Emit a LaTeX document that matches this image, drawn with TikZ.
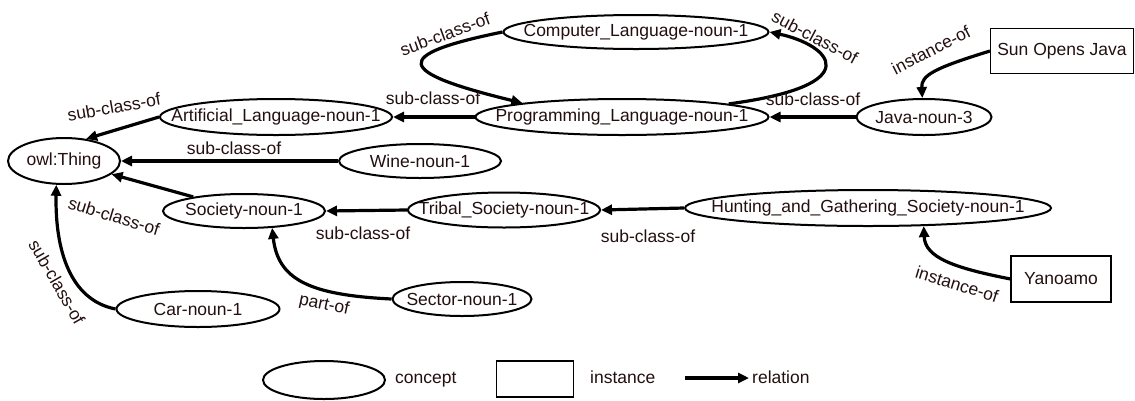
\documentclass[tikz,border=0pt]{standalone}
\usepackage{fontspec}
\setmainfont{Liberation Sans}
\usetikzlibrary{arrows.meta,shapes.geometric}
\definecolor{txt}{RGB}{35,15,15}
\newcommand{\ctext}[1]{\makebox[0pt]{#1}}
\begin{document}
\begin{tikzpicture}[x=1pt,y=-1pt,
  font=\fontsize{17.5}{20}\selectfont,
  concept/.style={ellipse, draw, line width=2pt, inner sep=0pt, text=txt},
  inst/.style={rectangle, draw, line width=1.1pt, inner sep=0pt, text=txt},
  rel/.style={draw, line width=3.2pt, -{Triangle[length=11pt,width=10pt]}},
  lbl/.style={text=txt, inner sep=0pt}]
\useasboundingbox (0,0) rectangle (1135,400);

% concepts
\node[concept, minimum width=112pt, minimum height=46pt] (owl) at (64,161) {\ctext{owl:Thing}};
\node[concept, minimum width=232pt, minimum height=36pt] (art) at (276,117) {\ctext{Artificial\_Language-noun-1}};
\node[concept, minimum width=293pt, minimum height=36pt] (prog) at (622,117) {\ctext{Programming\_Language-noun-1}};
\node[concept, minimum width=265pt, minimum height=34pt] (comp) at (636,32) {\ctext{Computer\_Language-noun-1}};
\node[concept, minimum width=135pt, minimum height=36pt] (java) at (924,117) {\ctext{Java-noun-3}};
\node[concept, minimum width=162pt, minimum height=34pt] (wine) at (420,161) {\ctext{Wine-noun-1}};
\node[concept, minimum width=162pt, minimum height=34pt] (soc) at (244,211) {\ctext{Society-noun-1}};
\node[concept, minimum width=192pt, minimum height=35pt] (trib) at (504,210) {\ctext{Tribal\_Society-noun-1}};
\node[concept, minimum width=366pt, minimum height=36pt] (hunt) at (868,208) {\ctext{Hunting\_and\_Gathering\_Society-noun-1}};
\node[concept, minimum width=139pt, minimum height=34pt] (sec) at (462,299) {\ctext{Sector-noun-1}};
\node[concept, minimum width=163pt, minimum height=36pt] (car) at (198,309) {\ctext{Car-noun-1}};

% instances
\node[inst, minimum width=143pt, minimum height=45pt] (sun) at (1062,51) {Sun Opens Java};
\node[inst, minimum width=100pt, minimum height=46pt] (yan) at (1061,279) {Yanoamo};

% relations
\draw[rel] (art.west) -- (owl.45);
\draw[rel] (prog.west) -- (art.east);
\draw[rel] (wine.west) -- (owl.east);
\draw[rel] (java.west) -- (prog.east);
\draw[rel] (comp.west) .. controls (390,55) and (395,72) .. (prog.172);
\draw[rel] (prog.7) .. controls (870,85) and (830,45) .. (comp.east);
\draw[rel] (sun.west) .. controls (935,68) and (921,75) .. (java.95);
\draw[rel] (trib.west) -- (soc.east);
\draw[rel] (hunt.west) -- (trib.east);
\draw[rel] (yan.west) .. controls (955,268) and (925,258) .. (hunt.-18);
\draw[rel] (soc) -- (owl);
\draw[rel] (sec.west) .. controls (310,295) and (278,280) .. (soc.-31);
\draw[rel] (car.west) .. controls (70,300) and (55,250) .. (owl.-108);

% labels
\node[lbl, rotate=10] (l1) at (114,107) {sub-class-of};
\node[lbl] (l2) at (433,98) {sub-class-of};
\node[lbl] (l3) at (234,148) {sub-class-of};
\node[lbl] (l4) at (813,99) {sub-class-of};
\node[lbl, rotate=20] (l5) at (445,34) {sub-class-of};
\node[lbl, rotate=-28] (l6) at (815,37) {sub-class-of};
\node[lbl, rotate=27] (l7) at (931,50) {instance-of};
\node[lbl] (l8) at (363,233) {sub-class-of};
\node[lbl] (l9) at (648,236) {sub-class-of};
\node[lbl, rotate=-17] (l10) at (957,284) {instance-of};
\node[lbl, rotate=-17] (l11) at (114,216) {sub-class-of};
\node[lbl, rotate=-12] (l12) at (324,305) {part-of};
\node[lbl, rotate=-60] (l13) at (57,282) {sub-class-of};

% legend
\node[concept, minimum width=122pt, minimum height=38pt] (legc) at (324,380) {};
\node[lbl, anchor=west] (legct) at (395,380) {concept};
\node[inst, minimum width=77pt, minimum height=36pt] (legi) at (535,379) {};
\node[lbl, anchor=west] (legit) at (590,377) {instance};
\coordinate (la1) at (685,378);
\coordinate (la2) at (749,378);
\draw[rel] (la1) -- (la2);
\node[lbl, anchor=west] (legrt) at (752,377) {relation};
\end{tikzpicture}
\end{document}
